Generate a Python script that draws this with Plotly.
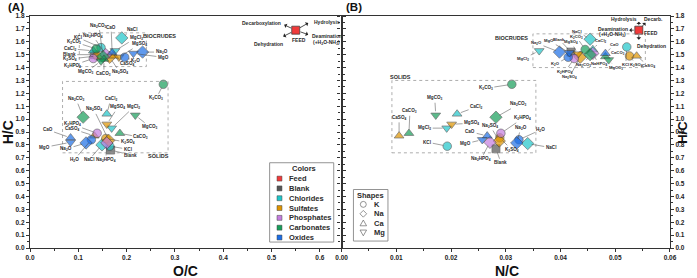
import re
import plotly.graph_objects as go

# ---------------- data ----------------
compounds = ["Blank", "KCl", "NaCl", "CaCl2", "MgCl2", "K2SO4", "Na2SO4", "CaSO4", "MgSO4",
             "K2HPO4", "Na2HPO4", "K2CO3", "Na2CO3", "CaCO3", "MgCO3", "K2O", "Na2O", "CaO", "MgO"]
groups = ["Blank", "Chlorides", "Chlorides", "Chlorides", "Chlorides",
          "Sulfates", "Sulfates", "Sulfates", "Sulfates", "Phosphates", "Phosphates",
          "Carbonates", "Carbonates", "Carbonates", "Carbonates",
          "Oxides", "Oxides", "Oxides", "Oxides"]
cations = ["Blank", "K", "Na", "Ca", "Mg", "K", "Na", "Ca", "Mg", "K", "Na",
           "K", "Na", "Ca", "Mg", "K", "Na", "Ca", "Mg"]

# Panel A: O/C vs H/C
bio_oc = [0.133, 0.147, 0.190, 0.131, 0.176, 0.139, 0.165, 0.173, 0.184, 0.131, 0.157,
          0.137, 0.151, 0.153, 0.147, 0.196, 0.233, 0.170, 0.214]
bio_hc_a = [1.50, 1.555, 1.63, 1.53, 1.53, 1.49, 1.48, 1.49, 1.48, 1.47, 1.50,
            1.545, 1.485, 1.465, 1.45, 1.48, 1.52, 1.515, 1.51]
sol_oc = [0.167, 0.165, 0.149, 0.159, 0.169, 0.157, 0.163, 0.133, 0.159, 0.139, 0.159,
          0.276, 0.110, 0.186, 0.218, 0.127, 0.116, 0.084, 0.084]
sol_hc_a = [0.76, 0.79, 0.80, 1.04, 0.93, 0.85, 0.835, 0.87, 0.96, 0.89, 0.815,
            1.27, 1.015, 0.89, 1.03, 0.84, 0.815, 0.855, 0.82]

# Panel B: N/C vs H/C
bio_nc = [0.0419, 0.0521, 0.0454, 0.0459, 0.0361, 0.0526, 0.0436, 0.0539, 0.0432, 0.0425, 0.0459,
          0.0445, 0.0454, 0.0482, 0.0488, 0.0414, 0.0398, 0.0482, 0.0416]
bio_hc_b = [1.52, 1.56, 1.62, 1.54, 1.53, 1.49, 1.48, 1.49, 1.505, 1.47, 1.51,
            1.54, 1.50, 1.485, 1.46, 1.48, 1.52, 1.51, 1.515]
sol_nc = [0.0282, 0.0193, 0.0340, 0.0211, 0.0192, 0.0289, 0.0288, 0.0105, 0.0201, 0.0291, 0.0271,
          0.0311, 0.0282, 0.0123, 0.0172, 0.0324, 0.0320, 0.0266, 0.0257]
sol_hc_b = [0.77, 0.79, 0.81, 1.04, 0.93, 0.855, 0.83, 0.87, 0.96, 0.89, 0.82,
            1.27, 1.015, 0.89, 1.03, 0.84, 0.815, 0.87, 0.84]

feed_oc, feed_nc, feed_hc = 0.55, 0.0543, 1.69

color_names = ["Feed", "Blank", "Chlorides", "Sulfates", "Phosphates", "Carbonates", "Oxides"]
shape_names = ["K", "Na", "Ca", "Mg"]

# ---------------- style ----------------
COL = {"Feed": "#f03a3a", "Blank": "#555555", "Chlorides": "#1fc6c9", "Sulfates": "#de9400",
       "Phosphates": "#c47ddf", "Carbonates": "#169e5a", "Oxides": "#1c6ee6"}
SYM = {"Blank": "square", "K": "circle", "Na": "diamond", "Ca": "triangle-up", "Mg": "triangle-down"}
SIZ = {"Blank": 8, "K": 8.5, "Na": 9.5, "Ca": 8.5, "Mg": 8.5}
FONT = "Liberation Sans, Arial, sans-serif"
INK = "#2b2b2b"

W, H = 697, 278
L, R, T, B = 30, 18, 14, 30
PW, PH = W - L - R, H - T - B


def px(x):
    return (x - L) / PW


def py(y):
    return (H - B - y) / PH


def fmt(s):
    return re.sub(r"(\d)", r"<sub>\1</sub>", s)


split = px(346)

fig = go.Figure()


def add_set(xs, ys, xa, ya):
    fig.add_trace(go.Scatter(
        x=xs, y=ys, xaxis=xa, yaxis=ya, mode="markers", showlegend=False,
        marker=dict(color=[COL[g] for g in groups], symbol=[SYM[c] for c in cations],
                    size=[SIZ[c] for c in cations], line=dict(color="#333333", width=0.7))))


add_set(bio_oc, bio_hc_a, "x", "y")
add_set(sol_oc, sol_hc_a, "x", "y")
add_set(bio_nc, bio_hc_b, "x2", "y2")
add_set(sol_nc, sol_hc_b, "x2", "y2")
for fx, xa, ya in [(feed_oc, "x", "y"), (feed_nc, "x2", "y2")]:
    fig.add_trace(go.Scatter(x=[fx], y=[feed_hc], xaxis=xa, yaxis=ya, mode="markers", showlegend=False,
                             marker=dict(color=COL["Feed"], symbol="square", size=8,
                                         line=dict(color="#333333", width=0.7))))

# label offsets (pixels) for each point
bioA_off = {"Na2CO3": (-4, -31), "CaO": (-1, -25), "NaCl": (10, -8), "KCl": (-23, -10),
            "Na2HPO4": (-13, -19), "MgCl2": (21, -13), "K2CO3": (-22, -7), "MgSO4": (21, -13),
            "CaCl2": (-23, -2), "Blank": (-25, 0), "K2SO4": (-27, 3), "K2HPO4": (-21, 7),
            "MgCO3": (-15, 11), "CaCO3": (0, 15), "Na2SO4": (10, 15), "CaSO4": (14, 8),
            "K2O": (11, 4), "MgO": (30, 4), "Na2O": (19, 0)}
solA_off = {"K2CO3": (-7, 14), "Na2CO3": (-7, -18), "CaCl2": (4, -15), "MgSO4": (11, -17),
            "MgCl2": (22, -21), "Na2SO4": (-15, -31), "MgCO3": (15, 12), "CaCO3": (21, 4),
            "K2HPO4": (-25, -9), "CaSO4": (-22, -7), "CaO": (-23, -8), "MgO": (-26, 5),
            "Na2O": (-20, 6), "K2O": (-17, 20), "NaCl": (-13, 15), "Na2HPO4": (-1, 17),
            "Blank": (20, 5), "KCl": (18, 3), "K2SO4": (22, 4)}
bioB_off = {"MgCl2": (-16, 8), "Na2O": (-23, -9), "MgO": (-20, -12), "Blank": (-12, -13),
            "MgSO4": (-7, -12), "K2CO3": (-9, -13), "NaCl": (-13, -8), "CaCl2": (8, -9),
            "CaO": (9, -9), "CaCO3": (13, -4), "KCl": (-1, 18), "K2SO4": (7, 9), "CaSO4": (12, 10),
            "MgCO3": (7, 8), "Na2HPO4": (6, 11), "Na2CO3": (-7, 10), "Na2SO4": (-11, 20),
            "K2HPO4": (-9, 13), "K2O": (-13, 7)}
solB_off = {"K2CO3": (-26, 4), "MgCO3": (-1, -17), "CaCl2": (19, -7), "Na2CO3": (23, -13),
            "K2HPO4": (22, -15), "CaSO4": (0, -18), "CaCO3": (1, -22), "MgCl2": (-22, 0),
            "MgSO4": (20, -1), "Na2SO4": (-9, -15), "CaO": (-17, -4), "MgO": (-17, 4),
            "Na2HPO4": (-9, 17), "KCl": (-20, -4), "Blank": (5, 14), "K2SO4": (12, 12),
            "Na2O": (4, -15), "K2O": (22, -10), "NaCl": (23, 4)}

ann = []


def add_labels(xs, ys, xa, ya, offs, rename=None, size=4.6):
    rename = rename or {}
    for name, xv, yv in zip(compounds, xs, ys):
        ax, ay = offs[name]
        ann.append(dict(x=xv, y=yv, xref=xa, yref=ya, ax=ax, ay=ay, text=fmt(rename.get(name, name)),
                        showarrow=True, arrowhead=0, arrowwidth=0.5, arrowcolor="#444",
                        standoff=4, font=dict(size=size, family=FONT, color=INK, weight="bold")))


add_labels(bio_oc, bio_hc_a, "x", "y", bioA_off)
add_labels(sol_oc, sol_hc_a, "x", "y", solA_off, {"K2O": "H2O"})
add_labels(bio_nc, bio_hc_b, "x2", "y2", bioB_off, {"Na2HPO4": "NaHPO4"}, size=4.2)
add_labels(sol_nc, sol_hc_b, "x2", "y2", solB_off, {"K2O": "H2O"})


def feed_arrows(fx, xa, ya, arrows, texts):
    for ax, ay in arrows:
        ann.append(dict(x=fx, y=feed_hc, xref=xa, yref=ya, ax=ax, ay=ay, text="", showarrow=True,
                        arrowside="start", arrowhead=2, arrowsize=0.7, arrowwidth=0.8,
                        arrowcolor="#222", standoff=5))
    for t, dx, dy in texts:
        ann.append(dict(x=fx, y=feed_hc, xref=xa, yref=ya, xshift=dx, yshift=-dy, text=t,
                        xanchor="center", yanchor="middle",
                        showarrow=False, font=dict(size=5, family=FONT, color=INK, weight="bold")))


feed_arrows(feed_oc, "x", "y", [(-13, -6), (14, -8), (-14, 7), (14, 5)],
            [("Decarboxylation", -34, -7), ("Hydrolysis", 31, -8), ("Dehydration", -27, 14),
             ("Deamination", 31, 6), ("(+H<sub>2</sub>O-NH<sub>3</sub>)", 31, 12), ("FEED", 3, 10)])
feed_arrows(feed_nc, "x2", "y2", [(0, -10), (8, -9), (-11, 0), (0, 11)],
            [("Hydrolysis", -15, -11), ("Decarb.", 15, -11), ("Deamination", -26, -1),
             ("(+H<sub>2</sub>O-NH<sub>3</sub>)", -26, 4), ("FEED", 12, 3), ("Dehydration", 13, 16)])


def ptext(t, x, y, size, color=INK, anchor="center", angle=0):
    ann.append(dict(x=px(x), y=py(y), xref="paper", yref="paper", text=t, showarrow=False,
                    xanchor=anchor, yanchor="middle", textangle=angle,
                    font=dict(size=size, family=FONT, color=color, weight="bold")))


# group labels
for t, x, y in [("BIOCRUDES", 161, 34), ("SOLIDS", 160, 155), ("BIOCRUDES", 518, 36), ("SOLIDS", 406, 76)]:
    ptext(t, x, y, 5.5)

# panel letters and axis titles
ptext("(A)", 16, 5, 11.5, "#111")
ptext("(B)", 359, 5, 11.5, "#111")
ptext("O/C", 188, 271, 14, "#111")
ptext("N/C", 514, 271, 14, "#111")
ptext("H/C", 8, 131, 14, "#111", angle=-90)
ptext("H/C", 691, 131, 13, "#111", angle=-90)

shapes = []
# dotted group boxes
for x0, y0, x1, y1 in [(80, 31, 148, 65), (63, 80, 170, 152), (540, 32, 654, 66), (397, 79, 543, 152)]:
    shapes.append(dict(type="rect", xref="paper", yref="paper", x0=px(x0), x1=px(x1), y0=py(y1), y1=py(y0),
                       line=dict(color="#999", width=0.8, dash="dot")))

# colors legend
shapes.append(dict(type="rect", xref="paper", yref="paper", x0=px(273), x1=px(338), y0=py(242), y1=py(162),
                   line=dict(color="#888", width=0.9), fillcolor="white", layer="above"))
ptext("Colors", 308, 168, 7.5)
for i, name in enumerate(color_names):
    yy = 178 + i * 9.9
    shapes.append(dict(type="rect", xref="paper", yref="paper", x0=px(280.5), x1=px(285.5),
                       y0=py(yy + 2.5), y1=py(yy - 2.5), fillcolor=COL[name],
                       line=dict(color="#444", width=0.5), layer="above"))
    ptext(name, 291, yy, 7.5, anchor="left")

# shapes legend
shapes.append(dict(type="rect", xref="paper", yref="paper", x0=px(358), x1=px(393), y0=py(241), y1=py(189),
                   line=dict(color="#888", width=0.9), fillcolor="white", layer="above"))
ptext("Shapes", 375, 195, 7.5)
sym_paths = {
    "K": None,
    "Na": [(0, -3.4), (3.4, 0), (0, 3.4), (-3.4, 0)],
    "Ca": [(0, -3.2), (3.3, 2.6), (-3.3, 2.6)],
    "Mg": [(0, 3.2), (3.3, -2.6), (-3.3, -2.6)],
}
for i, name in enumerate(shape_names):
    yy = 204 + i * 9.5
    cx = 368
    if sym_paths[name] is None:
        shapes.append(dict(type="circle", xref="paper", yref="paper", x0=px(cx - 3), x1=px(cx + 3),
                           y0=py(yy + 3), y1=py(yy - 3), line=dict(color="#666", width=0.7), layer="above"))
    else:
        pts = sym_paths[name]
        path = "M " + " L ".join(f"{px(cx + dx):.5f},{py(yy + dy):.5f}" for dx, dy in pts) + " Z"
        shapes.append(dict(type="path", xref="paper", yref="paper", path=path,
                           line=dict(color="#666", width=0.7), layer="above"))
    ptext(name, 377, yy, 7.5, anchor="left")

tickfont = dict(size=6.5, family=FONT, color="#222", weight="bold")
axcommon = dict(showgrid=False, zeroline=False, showline=True, linecolor="#333", linewidth=1.3,
                ticks="outside", ticklen=3, tickwidth=1, tickcolor="#333", tickfont=tickfont)

fig.update_layout(
    width=W, height=H, margin=dict(l=L, r=R, t=T, b=B),
    paper_bgcolor="white", plot_bgcolor="white",
    xaxis=dict(domain=[0, split], range=[0, 0.645], dtick=0.1, tickformat=".1f", mirror=True, anchor="y",
               minor=dict(dtick=0.05, ticks="outside", ticklen=2, tickcolor="#333"), **axcommon),
    yaxis=dict(domain=[0, 1], range=[0, 1.8], dtick=0.1, tickformat=".1f", mirror="ticks", anchor="x",
               minor=dict(dtick=0.05, ticks="outside", ticklen=2, tickcolor="#333"), **axcommon),
    xaxis2=dict(domain=[split, 1], range=[0, 0.06], dtick=0.01, tickformat=".2f", mirror=True, anchor="y2",
                minor=dict(dtick=0.005, ticks="outside", ticklen=2, tickcolor="#333"), **axcommon),
    yaxis2=dict(domain=[0, 1], range=[0, 1.8], dtick=0.1, tickformat=".1f", mirror="ticks", anchor="x2",
                side="right", minor=dict(dtick=0.05, ticks="outside", ticklen=2, tickcolor="#333"), **axcommon),
    annotations=ann, shapes=shapes, showlegend=False,
)

fig.write_html("out.html")
